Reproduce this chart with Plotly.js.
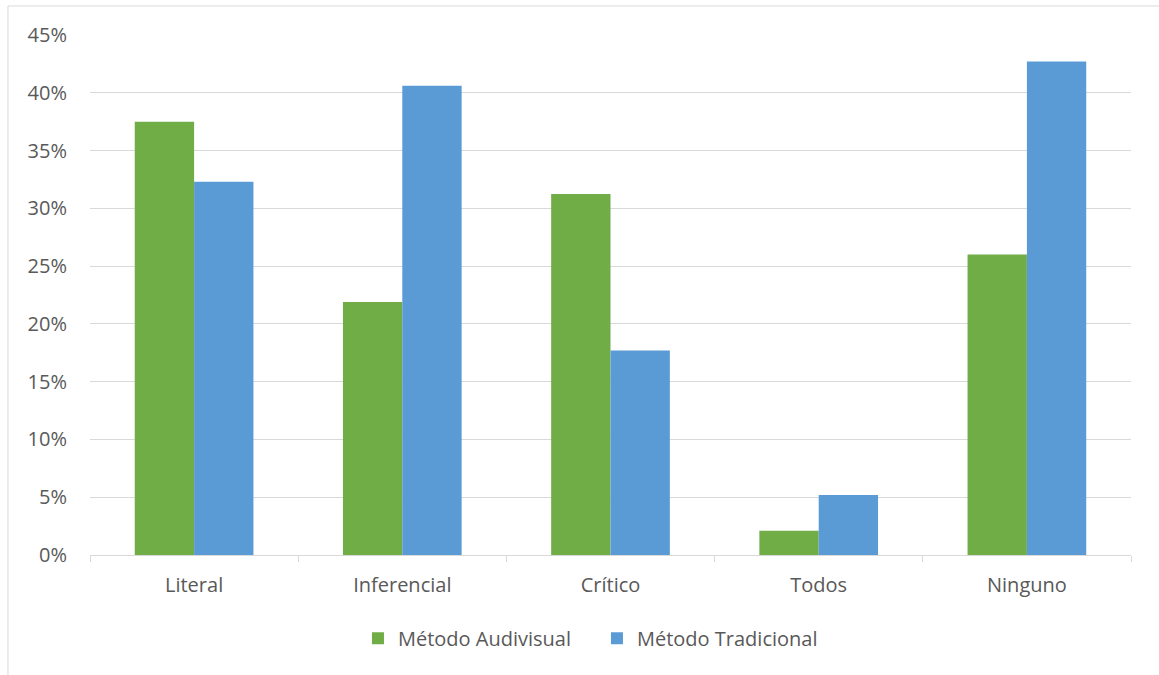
<!DOCTYPE html>
<html>
<head>
<meta charset="utf-8">
<script src="https://cdn.plot.ly/plotly-3.0.1.min.js"></script>
<style>
  html, body { margin: 0; padding: 0; background: #ffffff; }
  #chart { width: 1159px; height: 675px; }
</style>
</head>
<body>
<div id="chart"></div>
<script>
// Comprehension levels reached, by teaching method (share of students)
const categories = ['Literal', 'Inferencial', 'Crítico', 'Todos', 'Ninguno'];
const audiovisual = [0.375, 0.219, 0.3125, 0.021, 0.260];
const tradicional = [0.323, 0.406, 0.177, 0.052, 0.427];
const seriesNames = ['Método Audivisual', 'Método Tradicional'];
const yTickValues = [0, 0.05, 0.10, 0.15, 0.20, 0.25, 0.30, 0.35, 0.40, 0.45];
const yTickLabels = ['0%', '5%', '10%', '15%', '20%', '25%', '30%', '35%', '40%', '45%'];

const textColor = '#595959';
const gridColor = '#d9d9d9';
const font = { family: '"Open Sans", "Noto Sans", sans-serif', size: 20, color: textColor };

const traces = [
  { type: 'bar', name: seriesNames[0], x: categories, y: audiovisual,
    marker: { color: '#70ad47', line: { width: 0 } }, hoverinfo: 'x+y' },
  { type: 'bar', name: seriesNames[1], x: categories, y: tradicional,
    marker: { color: '#5b9bd5', line: { width: 0 } }, hoverinfo: 'x+y' }
];

const layout = {
  width: 1159, height: 675,
  paper_bgcolor: '#ffffff', plot_bgcolor: '#ffffff',
  font: font,
  margin: { l: 90, r: 28, t: 35, b: 120 },
  barmode: 'group', bargap: 0.43, bargroupgap: 0,
  showlegend: true,
  legend: {
    orientation: 'h', x: 0.487, xanchor: 'center', y: -0.16, yanchor: 'middle',
    font: font, itemwidth: 30, entrywidth: 194, entrywidthmode: 'pixels',
    traceorder: 'normal', itemclick: false
  },
  xaxis: {
    type: 'category', showgrid: false, zeroline: false,
    showline: true, linecolor: gridColor, linewidth: 1,
    ticks: 'outside', tickson: 'boundaries', ticklen: 6, tickcolor: gridColor,
    ticklabelstandoff: 12, tickfont: font, automargin: false
  },
  yaxis: {
    range: [0, 0.45], tickvals: yTickValues, ticktext: yTickLabels,
    showgrid: true, gridcolor: gridColor, gridwidth: 1,
    zeroline: false, showline: false, ticks: '', ticklabelstandoff: 22,
    tickfont: font, automargin: false
  },
  shapes: [
    // outer chart-area frame
    { type: 'rect', xref: 'paper', yref: 'paper', x0: -0.0788, x1: 1.06, y0: -0.25, y1: 1.0558,
      line: { color: gridColor, width: 1 }, fillcolor: 'rgba(0,0,0,0)', layer: 'below' }
  ]
};

Plotly.newPlot('chart', traces, layout, { displayModeBar: false, staticPlot: true });
</script>
</body>
</html>
